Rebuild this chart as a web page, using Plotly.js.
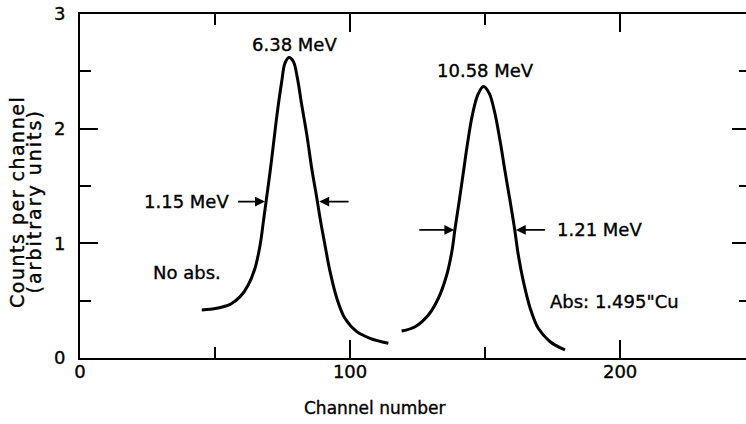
<!DOCTYPE html>
<html>
<head>
<meta charset="utf-8">
<script src="https://cdn.plot.ly/plotly-3.0.1.min.js"></script>
<style>
html, body { margin: 0; padding: 0; overflow: hidden; background: #fff; }
#chart { width: 752px; height: 424px; }
#chart svg text { stroke: black; stroke-width: 0.35px; }
g.annotation[data-index="8"] text { letter-spacing: 1.5px; }
g.annotation[data-index="9"] text { letter-spacing: 2px; }
</style>
</head>
<body>
<div id="chart"></div>
<script>
// Peak without absorber (6.38 MeV)
const peak1X = [45.1, 50.6, 55.6, 59.3, 62.3, 64.8, 66.7, 67.9, 68.9, 70.4, 71.6, 73.1, 74.7, 75.9, 77.4, 79.0, 80.5, 82.1, 84.0, 85.8, 87.7, 88.9, 90.7, 92.6, 95.1, 98.1, 102.5, 107.4, 114.2];
const peak1Y = [0.419, 0.434, 0.468, 0.535, 0.637, 0.783, 0.986, 1.189, 1.364, 1.626, 1.859, 2.149, 2.411, 2.572, 2.620, 2.586, 2.441, 2.208, 1.946, 1.655, 1.394, 1.219, 0.986, 0.753, 0.521, 0.346, 0.230, 0.172, 0.128];
// Peak with absorber 1.495" Cu (10.58 MeV)
const peak2X = [119.1, 124.1, 129.0, 132.7, 135.8, 137.7, 138.9, 140.4, 142.0, 143.6, 145.3, 147.3, 149.4, 151.5, 153.5, 155.6, 157.4, 159.3, 160.9, 162.3, 164.2, 166.7, 169.7, 174.1, 179.6];
const peak2Y = [0.236, 0.273, 0.375, 0.521, 0.724, 0.928, 1.131, 1.364, 1.626, 1.888, 2.120, 2.295, 2.367, 2.310, 2.149, 1.888, 1.626, 1.364, 1.131, 0.899, 0.666, 0.434, 0.259, 0.142, 0.070];

// FWHM arrows: [tailX, headX, y]
const fwhm1Left = [58.0, 68.5, 1.364];
const fwhm1Right = [100, 88.6, 1.364];
const fwhm2Left = [125.1, 138.6, 1.117];
const fwhm2Right = [172.8, 161.4, 1.117];

// Labels
const peakLabels = ["6.38 MeV", "10.58 MeV"];
const widthLabels = ["1.15 MeV", "1.21 MeV"];
const conditionLabels = ["No abs.", "Abs: 1.495\"Cu"];
const xTitle = "Channel number";
const yTitleLines = ["Counts per channel", "(arbitrary units)"];

const xTickVals = [0, 100, 200];
const yTickVals = [0, 1, 2, 3];

const FONT = "DejaVu Sans, Arial, sans-serif";
const lineStyle = { color: "black", width: 3, shape: "spline", smoothing: 1 };

const traces = [
  { x: peak1X, y: peak1Y, type: "scatter", mode: "lines", line: lineStyle, hoverinfo: "skip" },
  { x: peak2X, y: peak2Y, type: "scatter", mode: "lines", line: lineStyle, hoverinfo: "skip" }
];

function arrow(a) {
  return { x: a[1], y: a[2], ax: a[0], ay: a[2], xref: "x", yref: "y", axref: "x", ayref: "y",
    text: "", showarrow: true, arrowhead: 2, arrowsize: 1.1, arrowwidth: 1.8, arrowcolor: "black" };
}
function label(text, x, y, xanchor) {
  return { x: x, y: y, xref: "x", yref: "y", text: text, showarrow: false,
    xanchor: xanchor || "center", yanchor: "middle", font: { family: FONT, size: 18, color: "black" } };
}

const annotations = [
  arrow(fwhm1Left), arrow(fwhm1Right), arrow(fwhm2Left), arrow(fwhm2Right),
  label(peakLabels[0], 79.3, 2.73),
  label(peakLabels[1], 150.3, 2.51),
  label(widthLabels[0], 56.0, 1.364, "right"),
  label(widthLabels[1], 175.9, 1.117, "left"),
  { x: -0.0933, y: 0.4535, xref: "paper", yref: "paper", text: yTitleLines[0], showarrow: false, textangle: -90,
    xanchor: "center", yanchor: "middle", font: { family: FONT, size: 19, color: "black" } },
  { x: -0.0672, y: 0.455, xref: "paper", yref: "paper", text: yTitleLines[1], showarrow: false, textangle: -90,
    xanchor: "center", yanchor: "middle", font: { family: FONT, size: 19, color: "black" } },
  label(conditionLabels[0], 39.5, 0.75),
  label(conditionLabels[1], 197.8, 0.49),
  { x: 0.440, y: -0.145, xref: "paper", yref: "paper", text: xTitle, showarrow: false,
    xanchor: "center", yanchor: "middle", font: { family: FONT, size: 17, color: "black" } }
];

const layout = {
  width: 752, height: 424,
  margin: { l: 80, r: 2, t: 14, b: 66 },
  paper_bgcolor: "white", plot_bgcolor: "white",
  showlegend: false,
  font: { family: FONT, size: 18, color: "black" },
  xaxis: {
    range: [0, 248.1], showgrid: false, zeroline: false,
    showline: true, linecolor: "black", linewidth: 2, mirror: "ticks",
    ticks: "inside", ticklen: 18, tickwidth: 2, tickcolor: "black",
    tickmode: "array", tickvals: xTickVals, ticktext: xTickVals.map(String),
    ticklabelstandoff: -4,
    tickfont: { family: FONT, size: 18, color: "black" },
    minor: { dtick: 50, tick0: 0, ticks: "inside", ticklen: 11, tickwidth: 2, tickcolor: "black", showgrid: false }
  },
  yaxis: {
    range: [0, 3], showgrid: false, zeroline: false,
    showline: true, linecolor: "black", linewidth: 2, mirror: "ticks",
    ticks: "inside", ticklen: 18, tickwidth: 2, tickcolor: "black",
    tickmode: "array", tickvals: yTickVals, ticktext: yTickVals.map(String),
    ticklabelstandoff: 9,
    tickfont: { family: FONT, size: 18, color: "black" },
    minor: { dtick: 0.5, tick0: 0, ticks: "inside", ticklen: 11, tickwidth: 2, tickcolor: "black", showgrid: false }
  },
  annotations: annotations
};

Plotly.newPlot("chart", traces, layout, { displayModeBar: false, staticPlot: true });
</script>
</body>
</html>
